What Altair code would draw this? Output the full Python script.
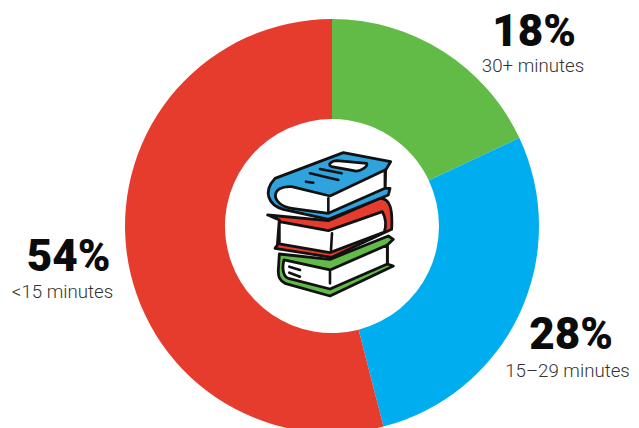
import altair as alt
import pandas as pd

categories = ["30+ minutes", "15–29  minutes", "<15 minutes"]
values = [18, 28, 54]
percent_labels = ["18%", "28%", "54%"]
slice_colors = ["#62BB46", "#00AEEF", "#E53C2E"]

df = pd.DataFrame({"category": categories, "value": values, "rank": [0, 1, 2], "pct": percent_labels})

arc = alt.Chart(df).mark_arc(outerRadius=207, innerRadius=107, stroke=None).encode(
    theta=alt.Theta("value:Q", stack=True, scale=alt.Scale(domain=[0, 100], range=[0, 6.28318530718])),
    order=alt.Order("rank:Q"),
    color=alt.Color("category:N", scale=alt.Scale(domain=categories, range=slice_colors), legend=None),
    x=alt.value(324), y=alt.value(218),
)

layers = [arc]
positions = {"30+ minutes": (526, 38, 525, 64), "15–29  minutes": (563, 341, 559.5, 369), "<15 minutes": (60.5, 263, 54.5, 290)}
for cat, (px, py, sx, sy) in positions.items():
    sub = df[df.category == cat]
    layers.append(alt.Chart(sub).mark_text(font="Roboto", fontWeight=900, fontSize=44, color="#0b0b0b", align="center", baseline="alphabetic").encode(
        text="pct:N", x=alt.value(px), y=alt.value(py)))
    layers.append(alt.Chart(sub).mark_text(font="Roboto", fontWeight=300, fontSize=18.7, color="#333333", align="center", baseline="alphabetic").encode(
        text="category:N", x=alt.value(sx), y=alt.value(sy)))

# Book icon: vector shapes in 3x icon units
INK = "#111111"
icon_parts = [
    ("M178 402 L330 418 L505 348 L520 358 L502 375 L502 432 L520 438 L330 528 L195 490 C178 480 174 470 175 450 Z", "#62BB46"),
    ("M192 420 L330 450 L502 375 L502 432 L330 507 L205 475 C188 470 186 440 192 420 Z", "#FFFFFF"),
    ("M143 285 L325 302 L480 235 C512 235 518 270 515 328 L335 412 L165 385 L172 375 L178 300 Z", "#E53C2E"),
    ("M178 305 L325 332 L487 275 C498 295 498 320 493 336 L330 398 L178 372 Z", "#FFFFFF"),
    ("M370 98 L512 125 L497 150 L495 205 L510 205 L505 225 L325 298 L190 268 C145 255 128 215 165 175 Z", "#2EA3DD"),
    ("M495 150 L330 228 L215 200 C150 195 150 255 215 265 L325 280 L495 205 Z", "#FFFFFF"),
    ("M350 122 L440 130 C445 140 420 155 405 153 L335 140 C320 135 335 122 350 122 Z", "#FFFFFF"),
]
icon_lines = "M300 147 L365 160 M270 160 L355 180 M258 185 L280 188 M325 235 L325 275 M336 340 L333 390 M330 455 L330 490 M208 440 L240 450 M208 458 L240 470"

for path, fill in icon_parts:
    layers.append(alt.Chart(df.head(1)).mark_point(shape=path, size=0.4444, filled=True, fill=fill, stroke=INK, strokeWidth=2.8, opacity=1, strokeJoin="round").encode(
        x=alt.value(212), y=alt.value(112)))
layers.append(alt.Chart(df.head(1)).mark_point(shape=icon_lines, size=0.4444, filled=False, fill=None, stroke=INK, strokeWidth=2.6, opacity=1, strokeCap="round").encode(
    x=alt.value(212), y=alt.value(112)))

chart = alt.layer(*layers).properties(width=623, height=420, padding=0, autosize=alt.AutoSizeParams(type="none"), background="white").configure_view(stroke=None)
chart.save("out.html", embed_options={"renderer": "svg", "actions": False})
